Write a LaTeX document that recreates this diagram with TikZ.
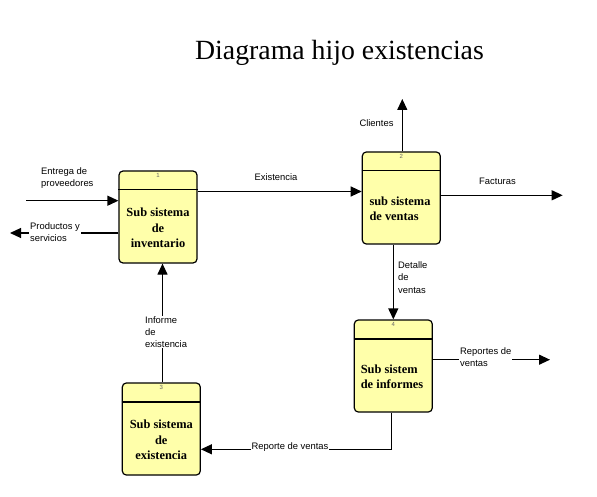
\documentclass[tikz,border=0pt]{standalone}
\usepackage{fontspec}
\setmainfont{Liberation Serif}
\newfontfamily\flowfont{Liberation Sans}
\usetikzlibrary{arrows.meta}
\definecolor{procfill}{RGB}{255,255,170}

\begin{document}
\begin{tikzpicture}[x=1pt,y=1pt]
\tikzstyle{proc}=[draw,rounded corners=4pt,fill=procfill,line width=1.2pt,minimum width=78pt,minimum height=92pt,inner sep=0pt]
\tikzstyle{ptext}=[font=\fontsize{12.4}{15.5}\selectfont\bfseries,inner sep=0pt]
\tikzstyle{num}=[font=\fontsize{6}{6}\selectfont\flowfont,text=black!60,inner sep=0pt]
\tikzstyle{flow}=[line width=1.2pt,-{Triangle[length=11pt,width=10pt]}]
\tikzstyle{lbl}=[font=\fontsize{9.4}{12}\selectfont\flowfont,align=left,inner sep=1pt]
\useasboundingbox (0,0) rectangle (597,-497);
\node[font=\fontsize{27.8}{30}\selectfont,anchor=base] (title) at (339.5,-60) {Diagrama hijo existencias};
\node[proc] (inv) at (158,-217) {};
\node[proc] (ven) at (401.3,-198) {};
\node[proc] (exi) at (161.3,-429) {};
\node[proc] (inf) at (393.3,-366) {};
\foreach \b/\n in {inv/1,ven/2,exi/3,inf/4} {
  \draw[line width=1.2pt] ([yshift=-19.5pt]\b.north west) -- ([yshift=-19.5pt]\b.north east);
  \node[num] (n\n) at ([yshift=-5pt]\b.north) {\n};
}
\node[ptext,align=center] (tinv) at (158,-228) {Sub sistema\\de\\inventario};
\node[ptext,align=left] (tven) at (400,-209) {sub sistema\\de ventas};
\node[ptext,align=center] (texi) at (161.3,-440) {Sub sistema\\de\\existencia};
\node[ptext,align=left] (tinf) at (392,-377) {Sub sistem\\de informes};
\coordinate (inE) at (26,-200.7);
\coordinate (outP) at (10,-233);
\coordinate (outC) at (402.3,-99);
\coordinate (outF) at (562.7,-195.3);
\coordinate (outR) at (550,-359.7);
\coordinate (bend) at (391.7,-449.3);
\coordinate (ie) at (162.5,0);
\draw[flow] (inE) -- (inE -| inv.west);
\draw[flow] (inv.west |- outP) -- (outP);
\draw[flow] ([yshift=25.5pt]inv.east) -- ([yshift=25.5pt]inv.east -| ven.west);
\draw[flow] (ven.north -| outC) -- (outC);
\draw[flow] (ven.east |- outF) -- (outF);
\draw[flow] (ven.south -| inf.north) -- (inf.north);
\draw[flow] (inf.east |- outR) -- (outR);
\draw[flow] (inf.south -| bend) -- (bend) -- (bend -| exi.east);
\draw[flow] (exi.north -| ie) -- (inv.south -| ie);
\node[lbl,anchor=west] (lentr) at (40,-178.5) {Entrega de\\proveedores};
\node[lbl,anchor=west,fill=white] (lprod) at (29,-232.5) {Productos y\\servicios};
\node[lbl] (lexis) at (276,-177.3) {Existencia};
\node[lbl] (lclie) at (376.5,-122.7) {Clientes};
\node[lbl] (lfact) at (497.5,-181.7) {Facturas};
\node[lbl,anchor=west,font=\fontsize{9.4}{12.5}\selectfont\flowfont] (ldeta) at (397,-277.5) {Detalle\\de\\ventas};
\node[lbl,anchor=west,fill=white] (lrepo) at (459,-356.7) {Reportes de\\ventas};
\node[lbl,fill=white] (lrven) at (290,-447) {Reporte de ventas};
\node[lbl,anchor=west,fill=white] (linfo) at (144,-332) {Informe\\de\\existencia};
\end{tikzpicture}
\end{document}
